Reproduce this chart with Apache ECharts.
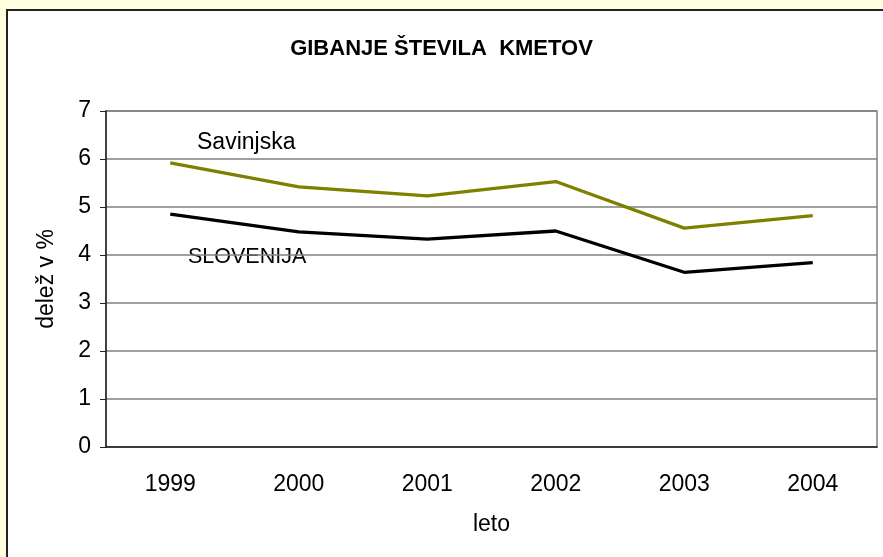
<!DOCTYPE html>
<html>
<head>
<meta charset="utf-8">
<script src="https://cdn.jsdelivr.net/npm/echarts@6/dist/echarts.min.js"></script>
<style>
  html, body { margin: 0; padding: 0; background: #ffffe0; }
  #main { width: 883px; height: 557px; }
</style>
</head>
<body>
<div id="main"></div>
<script>
  // data
  var years = ['1999', '2000', '2001', '2002', '2003', '2004'];
  var savinjska = [5.92, 5.42, 5.23, 5.53, 4.56, 4.82];
  var slovenija = [4.85, 4.48, 4.33, 4.50, 3.64, 3.84];

  var font = "'Liberation Sans', Arial, sans-serif";

  var myChart = echarts.init(document.getElementById('main'));
  var option = {
    backgroundColor: '#ffffe0',
    animation: false,
    title: {
      text: 'GIBANJE ŠTEVILA  KMETOV',
      left: 'center',
      top: 33,
      textStyle: { fontFamily: font, fontSize: 22, fontWeight: 'bold', color: '#000' }
    },
    graphic: [
      {
        type: 'rect', z: -10, silent: true,
        shape: { x: 7, y: 10, width: 880, height: 550 },
        style: { fill: '#fff', stroke: '#222', lineWidth: 2 }
      },
      {
        type: 'text', left: 197, top: 131,
        style: { text: 'Savinjska', font: '23px ' + font, fill: '#000' }
      },
      {
        type: 'text', left: 188, top: 246,
        style: { text: 'SLOVENIJA', font: '21.5px ' + font, fill: '#000' }
      }
    ],
    grid: {
      left: 106, top: 111, width: 771, height: 336,
      show: true, borderColor: '#808080', borderWidth: 1.5
    },
    xAxis: {
      type: 'category',
      data: years,
      boundaryGap: true,
      name: 'leto',
      nameLocation: 'middle',
      nameGap: 66,
      nameTextStyle: { fontFamily: font, fontSize: 23, color: '#000' },
      axisLine: { lineStyle: { color: '#222', width: 1.5 } },
      axisTick: { interval: 0, length: 6, lineStyle: { color: '#222' } },
      axisLabel: { margin: 26, fontFamily: font, fontSize: 23, color: '#000' }
    },
    yAxis: {
      type: 'value',
      min: 0, max: 7, interval: 1,
      name: 'delež v %',
      nameLocation: 'middle',
      nameGap: 48,
      nameTextStyle: { fontFamily: font, fontSize: 23, color: '#000' },
      axisLine: { show: true, lineStyle: { color: '#222', width: 1.5 } },
      axisTick: { show: true, length: 6, lineStyle: { color: '#222' } },
      axisLabel: { margin: 15, fontFamily: font, fontSize: 23, color: '#000' },
      splitLine: { lineStyle: { color: '#808080', width: 1.5 } }
    },
    series: [
      {
        name: 'Savinjska',
        type: 'line',
        data: savinjska,
        symbol: 'none',
        lineStyle: { color: '#808000', width: 3.3 }
      },
      {
        name: 'SLOVENIJA',
        type: 'line',
        data: slovenija,
        symbol: 'none',
        lineStyle: { color: '#000', width: 3.3 }
      }
    ]
  };
  myChart.setOption(option);
</script>
</body>
</html>
